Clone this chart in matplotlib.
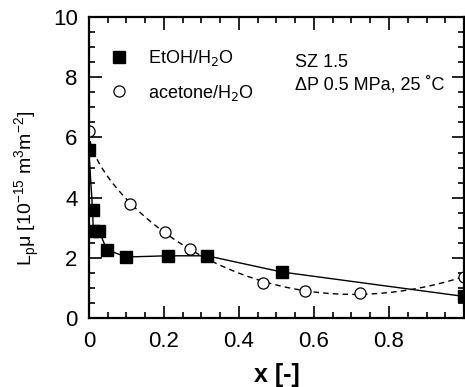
import numpy as np
import matplotlib.pyplot as plt
from matplotlib.ticker import MultipleLocator

plt.rcParams['font.family'] = ['Liberation Sans', 'DejaVu Sans']

# EtOH/H2O (filled squares)
etoh_x = [0.0, 0.01, 0.012, 0.027, 0.048, 0.10, 0.21, 0.315, 0.515, 1.0]
etoh_y = [5.6, 3.6, 2.9, 2.9, 2.27, 2.03, 2.07, 2.07, 1.53, 0.72]

# acetone/H2O (open circles)
acet_x = [0.0, 0.11, 0.203, 0.27, 0.464, 0.576, 0.723, 1.0]
acet_y = [6.2, 3.8, 2.87, 2.3, 1.17, 0.9, 0.83, 1.37]

fig = plt.figure(figsize=(4.65, 3.87), dpi=100)
ax = fig.add_axes([0.191, 0.178, 0.807, 0.778])

# smooth dashed trend for acetone, fitted in sqrt(x)
coef = np.polyfit(np.sqrt(acet_x), acet_y, 4)
xs = np.linspace(0, 1, 200)
ax.plot(xs, np.polyval(coef, np.sqrt(xs)), color='black', lw=1.0, dashes=(4, 3))
ax.plot(etoh_x, etoh_y, '-', color='black', lw=1.0)

ax.plot(etoh_x, etoh_y, 's', color='black', ms=8, ls='none', label='EtOH/H$_2$O')
ax.plot(acet_x, acet_y, 'o', mfc='white', mec='black', ms=8, mew=0.9, ls='none',
        label='acetone/H$_2$O')

ax.set_xlim(0, 1)
ax.set_ylim(0, 10)
ax.xaxis.set_minor_locator(MultipleLocator(0.05))
ax.yaxis.set_major_locator(MultipleLocator(2))
ax.yaxis.set_minor_locator(MultipleLocator(0.5))
ax.set_xticks([0, 0.2, 0.4, 0.6, 0.8])
ax.set_xticklabels(['0', '0.2', '0.4', '0.6', '0.8'])
ax.tick_params(which='both', direction='in', top=True, right=True, labelsize=16, width=1.2)
ax.tick_params(which='major', length=9)
ax.tick_params(axis='x', which='major', pad=9)
ax.tick_params(axis='y', which='major', pad=8)
ax.tick_params(which='minor', length=4)
for s in ax.spines.values():
    s.set_linewidth(1.6)

ax.set_xlabel('x [-]', fontsize=18, fontweight='bold', labelpad=8)
ax.set_ylabel(r'L$_\mathregular{p}$$\mathregular{\mu}$ [10$^\mathregular{-15}$ m$^\mathregular{3}$m$^\mathregular{-2}$]',
              fontsize=14)
ax.yaxis.set_label_coords(-0.125, 0.43)

ax.legend(loc='upper left', bbox_to_anchor=(0.0, 0.95), frameon=False, fontsize=13,
          handletextpad=0.9, labelspacing=0.8, handlelength=1.5)
ax.text(0.55, 0.833, 'SZ 1.5', transform=ax.transAxes, fontsize=13)
ax.text(0.55, 0.76, '\u0394P 0.5 MPa, 25 \u02daC', transform=ax.transAxes, fontsize=13)

fig.savefig('out.png', dpi=100)
